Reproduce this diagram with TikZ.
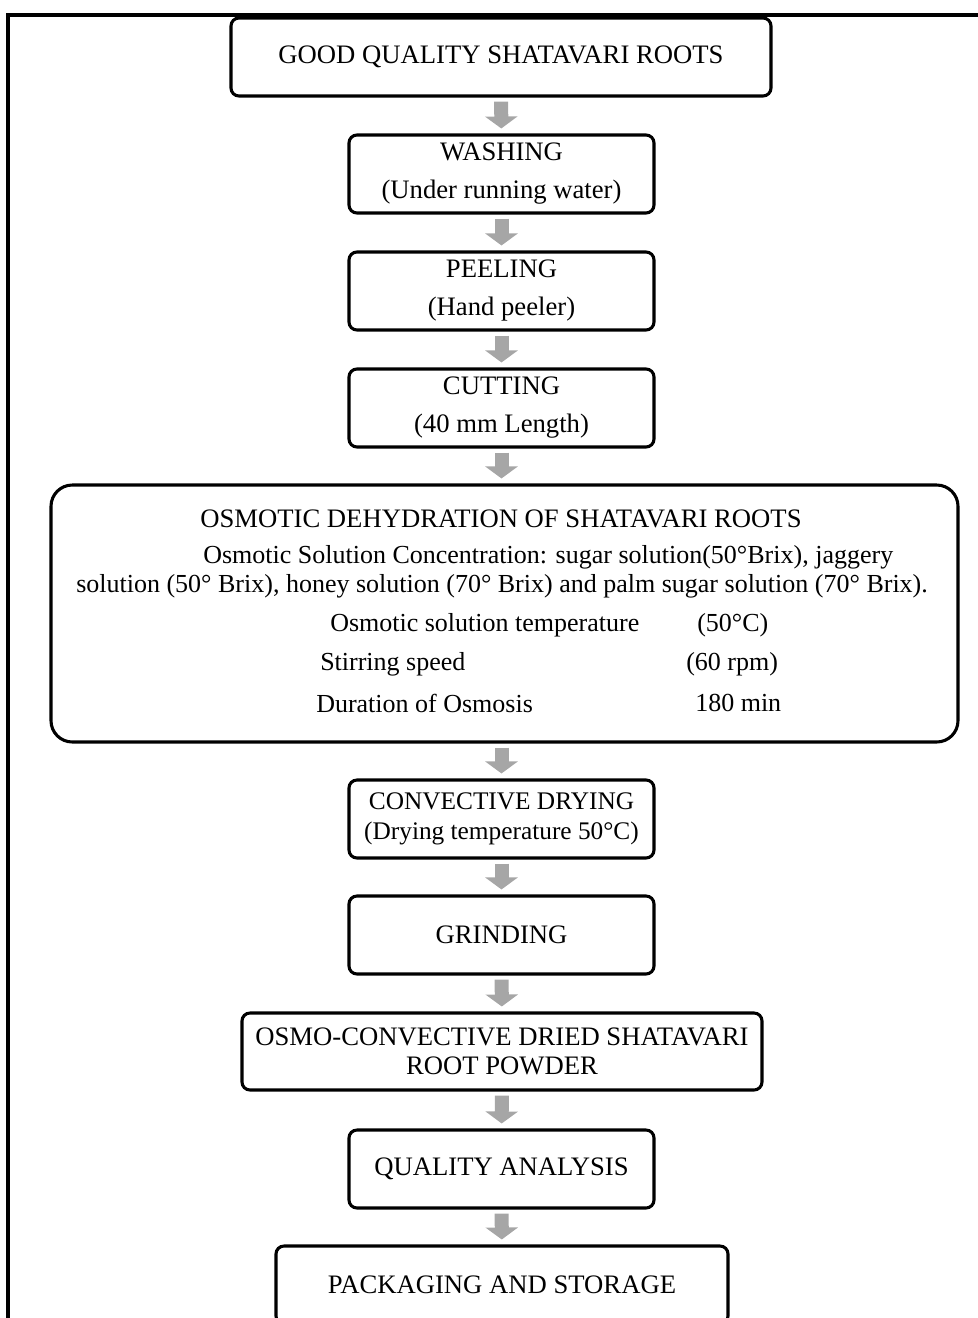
\documentclass[tikz,border=0pt]{standalone}
\usepackage{fontspec}
\setmainfont{Liberation Serif}
\usetikzlibrary{arrows.meta}
\definecolor{arrowgray}{RGB}{166,166,166}
\tikzset{
	stage/.style={draw, line width=2.3pt, rounded corners=6pt, align=center, inner sep=0pt,
		minimum width=228.75pt, minimum height=58.5pt, font=\fontsize{20}{28.5}\selectfont},
	tight/.style={font=\fontsize{20}{22}\selectfont},
	osmotext/.style={anchor=west, inner sep=0pt, font=\fontsize{19.5}{20}\selectfont},
	flow/.style={arrowgray, line width=10.5pt, -{Triangle[width=24pt,length=9pt]},
		shorten <=3pt, shorten >=3.75pt}
}
\begin{document}
\begin{tikzpicture}[x=0.75pt,y=-0.75pt]

		\useasboundingbox (0,0) rectangle (978,1318);
		\clip (0,0) rectangle (978,1318);
		\draw[line width=2.4pt] (978,15) -- (8,15) -- (8,1318);

		\node[stage, minimum width=405pt] (roots) at (501,57) {GOOD QUALITY SHATAVARI ROOTS};
		\node[stage] (wash) at (501.5,174) {WASHING\\(Under running water)};
		\node[stage] (peel) at (501.5,291) {PEELING\\(Hand peeler)};
		\node[stage] (cut) at (501.5,408) {CUTTING\\(40 mm Length)};

		\node[stage, minimum width=680.25pt, minimum height=192.75pt, rounded corners=16pt] (osmo) at (504.5,613.5) {};
		\node[osmotext, anchor=center, font=\fontsize{20}{20}\selectfont] (osmotitle) at (501,519) {OSMOTIC DEHYDRATION OF SHATAVARI ROOTS};
		\node[osmotext] (conc1) at (203,557) {Osmotic Solution Concentration: sugar solution(50°Brix), jaggery};
		\node[osmotext] (conc2) at (76,586) {solution (50° Brix), honey solution (70° Brix) and palm sugar solution (70° Brix).};
		\node[osmotext] (templ) at (330,625) {Osmotic solution temperature};
		\node[osmotext] (tempv) at (697,625) {(50°C)};
		\node[osmotext] (stirl) at (320,664) {Stirring speed};
		\node[osmotext] (stirv) at (686,664) {(60 rpm)};
		\node[osmotext] (durl) at (316,703) {Duration of Osmosis};
		\node[osmotext] (durv) at (695,703) {180 min};

		\node[stage, font=\fontsize{19}{22}\selectfont] (conv) at (501.5,819) {CONVECTIVE DRYING\\(Drying temperature 50°C)};
		\node[stage] (grind) at (501.5,935) {GRINDING};
		\node[stage, tight, minimum width=390pt, minimum height=57.75pt] (powder) at (502,1051.5) {OSMO-CONVECTIVE DRIED SHATAVARI\\ROOT POWDER};
		\node[stage] (qual) at (501.5,1169) {QUALITY ANALYSIS};
		\node[stage, minimum width=339pt] (pack) at (502,1285) {PACKAGING AND STORAGE};

		\draw[flow] (roots) -- (wash);
		\draw[flow] (wash) -- (peel);
		\draw[flow] (peel) -- (cut);
		\draw[flow] (cut) -- (cut |- osmo.north);
		\draw[flow] (osmo.south -| conv) -- (conv);
		\draw[flow] (conv) -- (grind);
		\draw[flow] (grind) -- (powder);
		\draw[flow] (powder) -- (qual);
		\draw[flow] (qual) -- (pack);

\end{tikzpicture}
\end{document}
